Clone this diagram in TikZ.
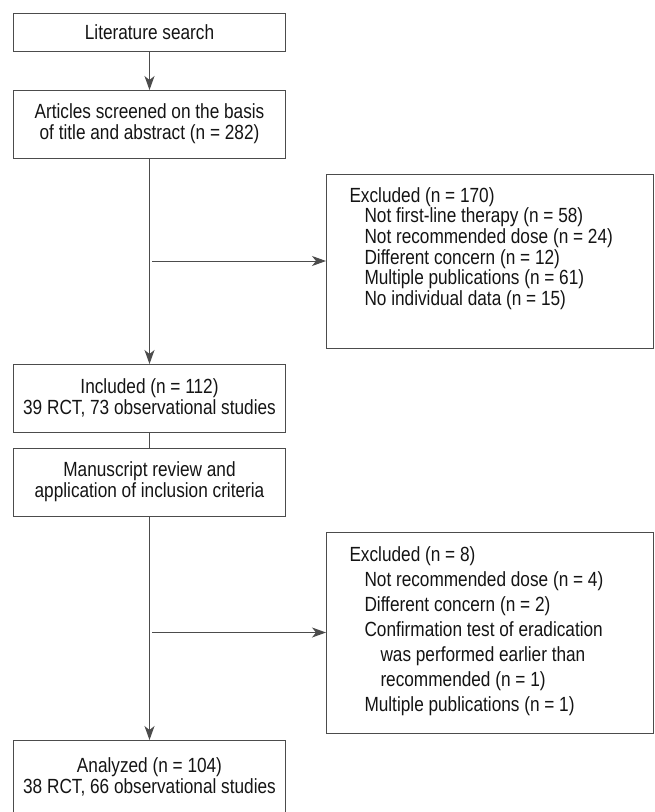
\documentclass[tikz,border=0pt]{standalone}
\usepackage{fontspec}
\setmainfont{Liberation Sans}[FakeStretch=0.84]
\usetikzlibrary{positioning, arrows.meta}
\colorlet{linegray}{black!70}
\colorlet{textgray}{black!92}

\begin{document}
\begin{tikzpicture}[x=1pt, y=-1pt,
  flowbox/.style={draw=linegray, line width=1pt, outer sep=0pt, inner sep=0pt, minimum width=272pt, minimum height=68pt, align=center, text=textgray, font=\fontsize{20.5pt}{21pt}\selectfont},
  exbox/.style={draw=linegray, line width=1pt, outer sep=0pt, inner sep=0pt, minimum width=327pt},
  exlist/.style={inner sep=0pt, outer sep=0pt, align=left, text=textgray},
  arrow/.style={-{Stealth[length=14pt, width=10pt, inset=4pt]}, draw=linegray, line width=1pt}]
\useasboundingbox (0,0) rectangle (654,812);
\node[flowbox, minimum height=38pt] (search) at (149.5,32) {Literature search};
\node[flowbox, below=39pt of search] (screen) {Articles screened on the basis\\of title and abstract (n = 282)};
\node[flowbox, below=206pt of screen] (incl) {Included (n = 112)\\39 RCT, 73 observational studies};
\node[flowbox, below=16pt of incl] (review) {Manuscript review and\\application of inclusion criteria};
\node[flowbox, below=224pt of review, minimum height=74pt] (anal) {Analyzed (n = 104)\\38 RCT, 66 observational studies};
% exclusion boxes
\node[exbox, minimum height=174pt, below right=16pt and 40.5pt of screen.south east] (ex1) {};
\node[exlist, font=\fontsize{20.5pt}{20.6pt}\selectfont, below right=13.5pt and 23.5pt of ex1.north west] (ex1list) {Excluded (n = 170)\\
  \hspace*{15pt}Not first-line therapy (n = 58)\\
  \hspace*{15pt}Not recommended dose (n = 24)\\
  \hspace*{15pt}Different concern (n = 12)\\
  \hspace*{15pt}Multiple publications (n = 61)\\
  \hspace*{15pt}No individual data (n = 15)};
\node[exbox, minimum height=201pt, below right=16pt and 40.5pt of review.south east] (ex2) {};
\node[exlist, font=\fontsize{20.5pt}{25pt}\selectfont, below right=14.5pt and 23.5pt of ex2.north west] (ex2list) {Excluded (n = 8)\\
  \hspace*{15pt}Not recommended dose (n = 4)\\
  \hspace*{15pt}Different concern (n = 2)\\
  \hspace*{15pt}Confirmation test of eradication\\
  \hspace*{31pt}was performed earlier than\\
  \hspace*{31pt}recommended (n = 1)\\
  \hspace*{15pt}Multiple publications (n = 1)};
\draw[arrow] (search) -- (screen);
\draw[arrow] (screen) -- (incl);
\draw[draw=linegray, line width=1pt] (incl) -- (review);
\draw[arrow] (review) -- (anal);
\draw[arrow, shorten <=2.5pt] (screen.south |- ex1.west) -- (ex1.west);
\draw[arrow, shorten <=2.5pt] (review.south |- ex2.west) -- (ex2.west);
\end{tikzpicture}
\end{document}
